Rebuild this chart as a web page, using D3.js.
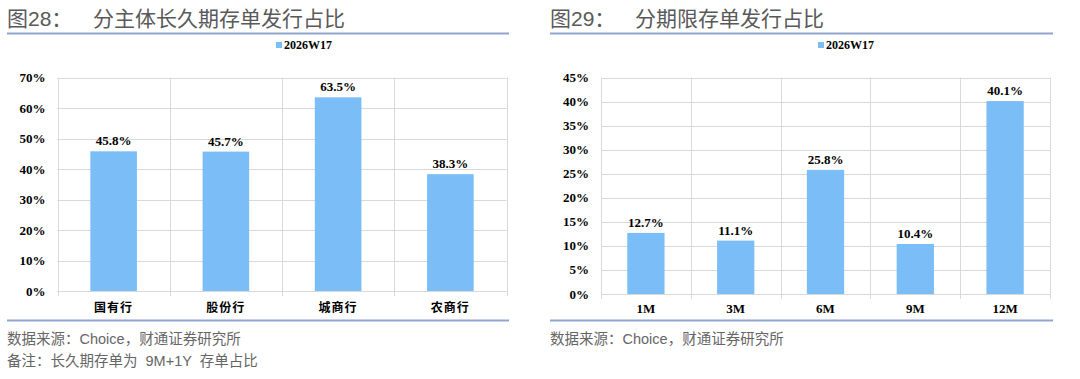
<!DOCTYPE html>
<html><head><meta charset="utf-8">
<script src="https://cdn.jsdelivr.net/npm/d3@7"></script>
<style>
html,body{margin:0;padding:0;background:#fff;}
svg{display:block;}
</style>
</head><body>
<svg id="c" width="1080" height="379"></svg>
<script>
// ---- data ----
const leftCategories = ["国有行", "股份行", "城商行", "农商行"];
const leftValues = [45.8, 45.7, 63.5, 38.3];
const leftTicks = [0, 10, 20, 30, 40, 50, 60, 70];

const rightCategories = ["1M", "3M", "6M", "9M", "12M"];
const rightValues = [12.7, 11.1, 25.8, 10.4, 40.1];
const rightTicks = [0, 5, 10, 15, 20, 25, 30, 35, 40, 45];

const seriesName = "2026W17";
const leftTitleNo = "图28：";
const leftTitle = "分主体长久期存单发行占比";
const rightTitleNo = "图29：";
const rightTitle = "分期限存单发行占比";
const leftNotes = ["数据来源：Choice，财通证券研究所", "备注：长久期存单为 9M+1Y 存单占比"];
const rightNotes = ["数据来源：Choice，财通证券研究所"];

const svg = d3.select("#c");
const barColor = "#7bbdf7";
const gridColor = "#d9d9d9";
const serif = "'Liberation Serif','Times New Roman',serif";
const cjk = "'Noto Sans CJK SC','Noto Sans',sans-serif";
const mixed = "'Liberation Sans','Noto Sans CJK SC',sans-serif";

function panel(o) {
  const g = svg.append("g");
  // title
  g.append("text").attr("x", o.x0).attr("y", 26)
    .attr("font-family", mixed).attr("font-size", 21).attr("fill", "#595959")
    .text(o.titleNo);
  g.append("text").attr("x", o.titleX).attr("y", 26)
    .attr("font-family", cjk).attr("font-size", 21).attr("fill", "#595959")
    .text(o.title);
  g.append("line").attr("x1", o.x0).attr("x2", o.x1).attr("y1", 33.5).attr("y2", 33.5)
    .attr("stroke", "#8fa4d0").attr("stroke-width", 2);
  g.append("line").attr("x1", o.x0).attr("x2", o.x1).attr("y1", 320.5).attr("y2", 320.5)
    .attr("stroke", "#8fa4d0").attr("stroke-width", 2);
  o.notes.forEach((t, i) => {
    g.append("text").attr("x", o.x0).attr("y", 344 + i * 22)
      .attr("font-family", mixed).attr("font-size", 14.5).attr("fill", "#666")
      .attr("word-spacing", 4)
      .text(t);
  });
  // legend
  g.append("rect").attr("x", o.legX).attr("y", 42).attr("width", 6).attr("height", 6).attr("fill", barColor);
  g.append("text").attr("x", o.legX + 8).attr("y", 49)
    .attr("font-family", serif).attr("font-weight", "bold").attr("font-size", 12).attr("fill", "#000")
    .text(seriesName);

  const x = d3.scaleBand().domain(o.cats).range([o.px0, o.px1]).paddingInner(0).paddingOuter(0);
  const y = d3.scaleLinear().domain([0, d3.max(o.ticks)]).range([o.py0, o.py1]);

  // horizontal grid
  g.append("g").selectAll("line").data(o.ticks).join("line")
    .attr("x1", o.px0).attr("x2", o.px1)
    .attr("y1", d => Math.round(y(d)) + 0.5).attr("y2", d => Math.round(y(d)) + 0.5)
    .attr("stroke", gridColor).attr("stroke-width", 1);
  // vertical grid at category boundaries
  const bounds = o.cats.map(c => x(c)).concat([o.px1]);
  g.append("g").selectAll("line").data(bounds).join("line")
    .attr("x1", d => Math.round(d) + 0.5).attr("x2", d => Math.round(d) + 0.5)
    .attr("y1", o.py1).attr("y2", o.py0 + 5)
    .attr("stroke", gridColor).attr("stroke-width", 1);

  // y labels
  g.append("g").selectAll("text").data(o.ticks).join("text")
    .attr("x", o.px0 - 12).attr("y", d => y(d)).attr("dy", "0.35em")
    .attr("text-anchor", "end")
    .attr("font-family", serif).attr("font-weight", "bold").attr("font-size", 13).attr("fill", "#000")
    .text(d => d + "%");

  const bw = x.bandwidth() * 0.415;
  g.append("g").selectAll("rect").data(o.vals).join("rect")
    .attr("x", (d, i) => x(o.cats[i]) + (x.bandwidth() - bw) / 2)
    .attr("width", bw)
    .attr("y", d => y(d)).attr("height", d => y(0) - y(d))
    .attr("fill", barColor);

  g.append("g").selectAll("text").data(o.vals).join("text")
    .attr("x", (d, i) => x(o.cats[i]) + x.bandwidth() / 2)
    .attr("y", d => y(d) - 6)
    .attr("text-anchor", "middle")
    .attr("font-family", serif).attr("font-weight", "bold").attr("font-size", 13).attr("fill", "#000")
    .text(d => d.toFixed(1) + "%");

  g.append("g").selectAll("text").data(o.cats).join("text")
    .attr("x", c => x(c) + x.bandwidth() / 2)
    .attr("y", o.catY)
    .attr("text-anchor", "middle")
    .attr("font-family", o.catCjk ? cjk : serif).attr("font-weight", "bold")
    .attr("font-size", o.catCjk ? 12 : 13).attr("fill", "#000")
    .attr("letter-spacing", o.catCjk ? 1 : 0)
    .text(c => c);
}

panel({
  x0: 7, x1: 509, titleNo: leftTitleNo, title: leftTitle, titleX: 93,
  notes: leftNotes, legX: 276,
  cats: leftCategories, vals: leftValues, ticks: leftTicks,
  px0: 57.5, px1: 506.5, py0: 291, py1: 77.5, catY: 312, catCjk: true
});
panel({
  x0: 550, x1: 1053, titleNo: rightTitleNo, title: rightTitle, titleX: 635,
  notes: rightNotes, legX: 818,
  cats: rightCategories, vals: rightValues, ticks: rightTicks,
  px0: 601, px1: 1050, py0: 294, py1: 77.5, catY: 313, catCjk: false
});
</script>
</body></html>
